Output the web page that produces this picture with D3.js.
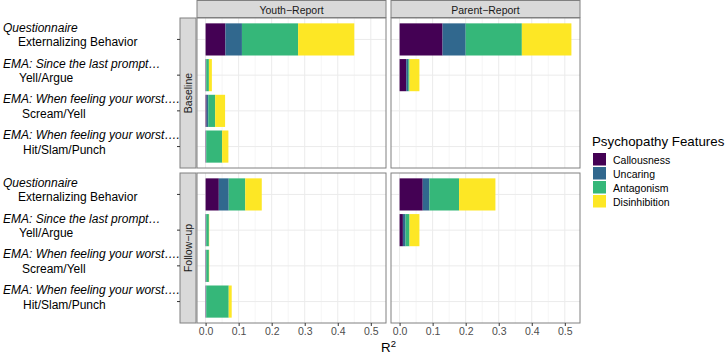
<!DOCTYPE html>
<meta charset="utf-8">
<style>
  body { margin: 0; background: #fff; }
  text { font-family: "Liberation Sans", Arial, sans-serif; }
</style>
<body>
  <script src="https://d3js.org/d3.v7.min.js"></script>
  <script>

    // ---- data ----
    var features = ["Callousness", "Uncaring", "Antagonism", "Disinhibition"];
    var colors = ["#440154", "#31688E", "#35B779", "#FDE725"];
    var reporters = ["Youth\u2212Report", "Parent\u2212Report"];
    var waves = ["Baseline", "Follow\u2212up"];
    var measureTop = ["Questionnaire", "EMA: Since the last prompt\u2026",
                      "EMA: When feeling your worst\u2026.", "EMA: When feeling your worst\u2026."];
    var measureSub = ["Externalizing Behavior", "Yell/Argue", "Scream/Yell", "Hit/Slam/Punch"];
    var xTicks = [0.0, 0.1, 0.2, 0.3, 0.4, 0.5];

    // R2 per measure: [Callousness, Uncaring, Antagonism, Disinhibition]
    var youthBaseline  = [[0.06, 0.05, 0.17, 0.17], [0.001, 0.001, 0.008, 0.009],
                          [0.003, 0.005, 0.021, 0.030], [0.001, 0.001, 0.048, 0.019]];
    var parentBaseline = [[0.13, 0.07, 0.17, 0.15], [0.02, 0.006, 0.004, 0.03], null, null];
    var youthFollow    = [[0.04, 0.03, 0.05, 0.05], [0.001, 0.001, 0.008, 0.001],
                          [0.001, 0.001, 0.008, 0.001], [0.001, 0.001, 0.068, 0.009]];
    var parentFollow   = [[0.07, 0.02, 0.09, 0.11], [0.01, 0.008, 0.012, 0.03], null, null];

    var panels = [
      {row: 0, col: 0, values: youthBaseline},
      {row: 0, col: 1, values: parentBaseline},
      {row: 1, col: 0, values: youthFollow},
      {row: 1, col: 1, values: parentFollow}
    ];

    // ---- layout ----
    var W = 728, H = 354;
    var panelLeft = 197, panelTop = 18, panelW = 189, panelH = 150, gap = 5;
    var stripH = 18, stripW = 17;
    var border = "#808080", grid = "#ebebeb";

    var svg = d3.select("body").append("svg")
      .attr("width", W).attr("height", H);

    var allTotals = [];
    panels.forEach(function(p) {
      p.values.forEach(function(v) { if (v) allTotals.push(d3.sum(v)); });
    });
    var xMax = d3.max(allTotals);
    var xExp = xMax * 0.05;

    var idx = d3.range(measureSub.length);

    panels.forEach(function(p) {
      var px = panelLeft + p.col * (panelW + gap);
      var py = panelTop + p.row * (panelH + gap);

      var x = d3.scaleLinear().domain([-xExp, xMax + xExp]).range([px, px + panelW]);
      var y = d3.scalePoint().domain(idx).range([py, py + panelH]).padding(0.6);
      var bh = y.step() * 0.9;

      var g = svg.append("g");
      g.append("rect").attr("x", px).attr("y", py).attr("width", panelW).attr("height", panelH)
        .attr("fill", "#fff");

      // minor grid
      g.selectAll(".minor").data(d3.range(0.05, 0.55, 0.1)).enter().append("line")
        .attr("x1", d => x(d)).attr("x2", d => x(d)).attr("y1", py).attr("y2", py + panelH)
        .attr("stroke", grid).attr("stroke-width", 0.5);
      // major grid
      g.selectAll(".vmaj").data(xTicks).enter().append("line")
        .attr("x1", d => x(d)).attr("x2", d => x(d)).attr("y1", py).attr("y2", py + panelH)
        .attr("stroke", grid).attr("stroke-width", 1);
      g.selectAll(".hmaj").data(idx).enter().append("line")
        .attr("x1", px).attr("x2", px + panelW).attr("y1", d => y(d)).attr("y2", d => y(d))
        .attr("stroke", grid).attr("stroke-width", 1);

      // stacked bars
      p.values.forEach(function(v, i) {
        if (!v) return;
        var cum = 0;
        v.forEach(function(val, k) {
          g.append("rect")
            .attr("x", x(cum)).attr("width", x(cum + val) - x(cum))
            .attr("y", y(i) - bh / 2).attr("height", bh)
            .attr("fill", colors[k]);
          cum += val;
        });
      });

      g.append("rect").attr("x", px).attr("y", py).attr("width", panelW).attr("height", panelH)
        .attr("fill", "none").attr("stroke", border).attr("stroke-width", 1);

      // top strip
      if (p.row === 0) {
        svg.append("rect").attr("x", px).attr("y", 0.5).attr("width", panelW).attr("height", stripH - 1)
          .attr("fill", "#d9d9d9").attr("stroke", border);
        svg.append("text").attr("x", px + panelW / 2).attr("y", stripH / 2 + 0.5)
          .attr("text-anchor", "middle").attr("dominant-baseline", "central")
          .attr("font-size", "10.5px").attr("fill", "#1a1a1a").text(reporters[p.col]);
      }

      // left strip, y ticks and labels
      if (p.col === 0) {
        var sx = panelLeft - stripW;
        svg.append("rect").attr("x", sx).attr("y", py).attr("width", stripW - 1).attr("height", panelH)
          .attr("fill", "#d9d9d9").attr("stroke", border);
        svg.append("text")
          .attr("transform", "translate(" + (sx + stripW / 2 - 0.5) + "," + (py + panelH / 2) + ") rotate(-90)")
          .attr("text-anchor", "middle").attr("dominant-baseline", "central")
          .attr("font-size", "10.5px").attr("fill", "#1a1a1a").text(waves[p.row]);

        svg.selectAll(null).data(idx).enter().append("line")
          .attr("x1", sx - 3).attr("x2", sx).attr("y1", d => y(d)).attr("y2", d => y(d))
          .attr("stroke", "#333").attr("stroke-width", 1);

        var subIndent = [15, 16, 19, 20];
        idx.forEach(function(i) {
          svg.append("text").attr("x", 3).attr("y", y(i) - 7.5)
            .attr("font-size", "12px").attr("font-style", "italic").attr("fill", "#000")
            .text(measureTop[i]);
          svg.append("text").attr("x", 3 + subIndent[i]).attr("y", y(i) + 7)
            .attr("font-size", "12px").attr("fill", "#000")
            .text(measureSub[i]);
        });
      }

      // bottom axis
      if (p.row === 1) {
        var axis = svg.append("g")
          .attr("transform", "translate(0," + (py + panelH) + ")")
          .call(d3.axisBottom(x).tickValues(xTicks).tickFormat(d3.format(".1f")).tickSize(3).tickPadding(2));
        axis.select(".domain").remove();
        axis.selectAll("line").attr("stroke", "#333");
        axis.selectAll("text").attr("font-size", "10.5px").attr("fill", "#4d4d4d")
          .attr("font-family", "Liberation Sans, Arial, sans-serif");
      }
    });

    // x axis title
    var t = svg.append("text").attr("x", panelLeft + panelW + gap / 2).attr("y", 352)
      .attr("text-anchor", "middle").attr("font-size", "13.3px").attr("fill", "#000");
    t.append("tspan").text("R");
    t.append("tspan").attr("dy", -5).attr("font-size", "9.5px").text("2");

    // legend
    var lx = 592, ly = 146;
    svg.append("text").attr("x", lx).attr("y", ly).attr("font-size", "13.3px").attr("fill", "#000")
      .text("Psychopathy Features");
    var items = svg.selectAll(".leg").data(features).enter().append("g")
      .attr("transform", (d, i) => "translate(" + (lx + 1) + "," + (ly + 7 + i * 14) + ")");
    items.append("rect").attr("width", 13).attr("height", 12.5).attr("fill", (d, i) => colors[i]);
    items.append("text").attr("x", 20).attr("y", 6.5).attr("dominant-baseline", "central")
      .attr("font-size", "10.5px").attr("fill", "#000").text(d => d);

  </script>
</body>
